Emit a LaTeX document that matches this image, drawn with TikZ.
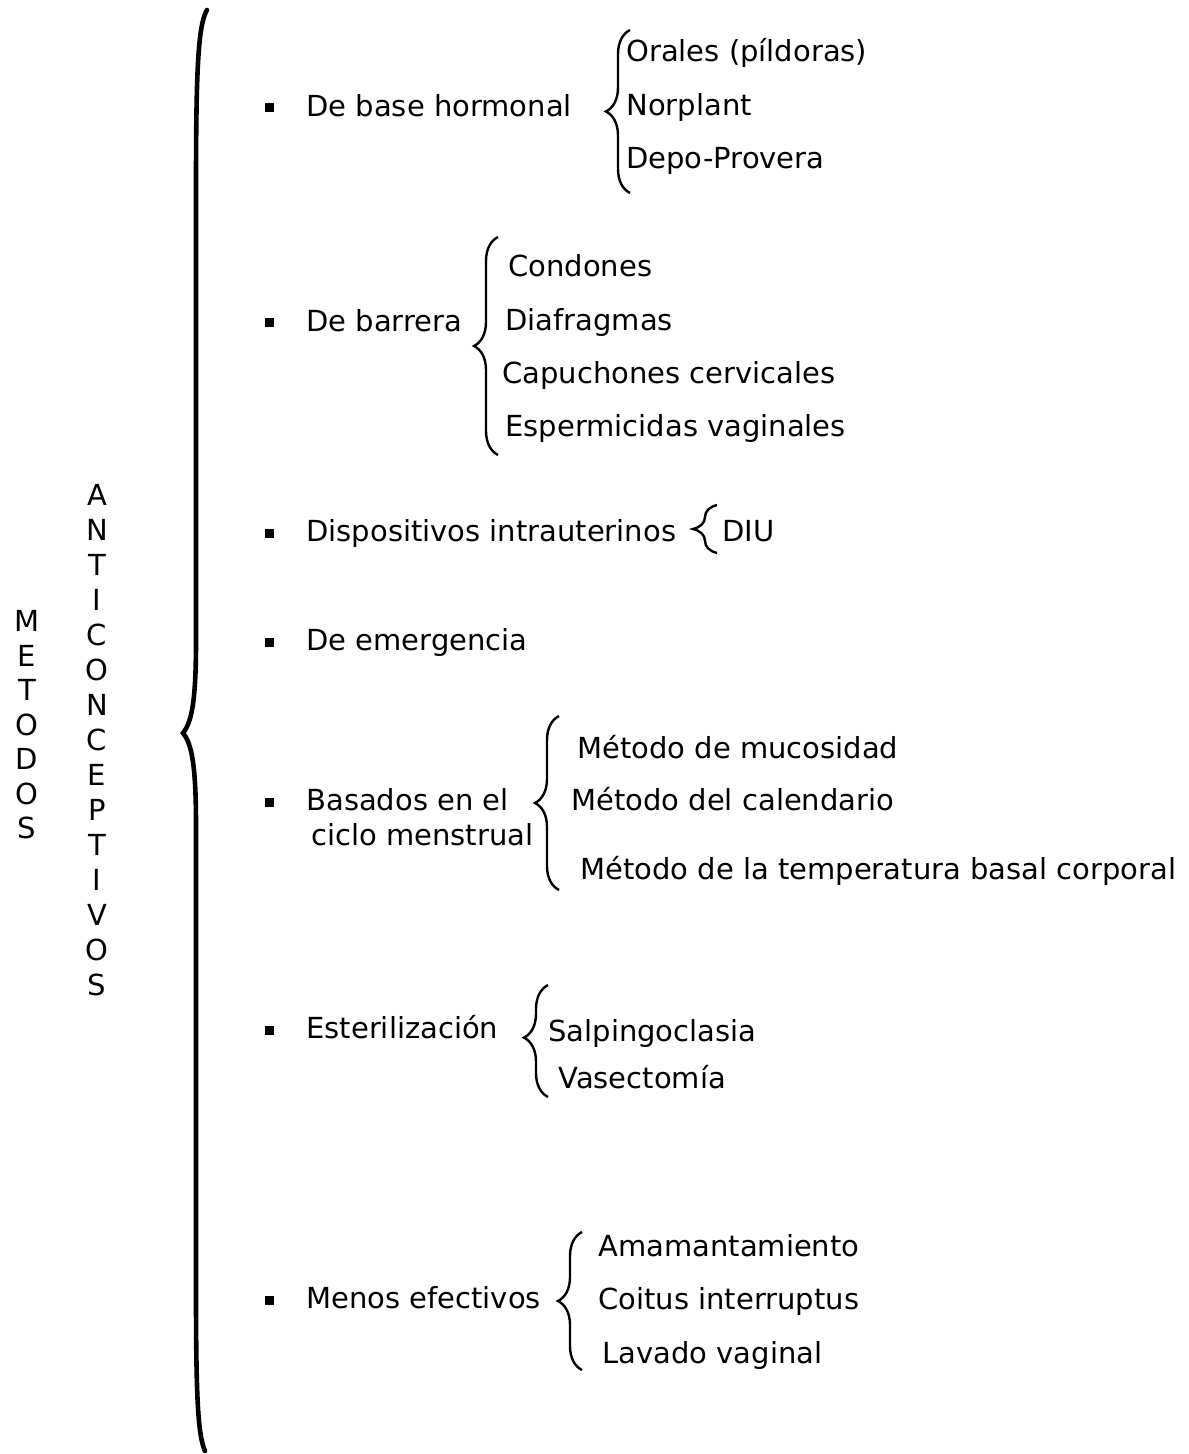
\documentclass[tikz,border=0pt]{standalone}
\usepackage{fontspec}
\setmainfont{DejaVu Sans}
\usetikzlibrary{decorations.pathreplacing,positioning}

\begin{document}
\begin{tikzpicture}
 [
 x=0.5pt, y=-0.5pt,
 item/.style={
  anchor=mid west,
  inner sep=0pt,
  yshift=-1.5pt,
  font=\fontsize{14.5}{17}\selectfont},
 dot/.style={
  rectangle,
  fill=black,
  minimum size=4.5pt,
  inner sep=0pt},
 letters/.style={
  align=center,
  inner sep=0pt,
  font=\fontsize{14.5}{17.25}\selectfont},
 curly/.style={
  decorate,
  decoration={brace,amplitude=12pt,aspect=0.5},
  line width=1.2pt},
 bigcurly/.style={line width=2.3pt, line cap=round}]
\useasboundingbox (0,0) rectangle (1188,1454);
% vertical titles
\node (metodos) [letters] at (27,725) {M\\E\\T\\O\\D\\O\\S};
\node (anticonc) [letters, font=\fontsize{14.5}{17.5}\selectfont] at (97,740) {A\\N\\T\\I\\C\\O\\N\\C\\E\\P\\T\\I\\V\\O\\S};
% main brace
\coordinate (mainTop) at (207,10);
\coordinate (mainTip) at (183,733);
\coordinate (mainBot) at (205,1451);
\draw [bigcurly] (mainTop) .. controls (198,25) and (196,70) .. (196,190)
 -- (196,640) .. controls (196,700) and (192,722) .. (mainTip)
 .. controls (192,744) and (196,766) .. (196,826)
 -- (196,1290) .. controls (196,1400) and (198,1435) .. (mainBot);
% kinds of methods
\node (d1) [dot] at (269,108) {};
\node (hormonal) [item] at (306,108) {De base hormonal};
\node (d2) [dot] at (269,323) {};
\node (barrera) [item] at (306,323) {De barrera};
\node (d3) [dot] at (269,533) {};
\node (disp) [item] at (306,533) {Dispositivos intrauterinos};
\node (d4) [dot] at (269,642) {};
\node (emerg) [item] at (306,642) {De emergencia};
\node (d5) [dot] at (269,802) {};
\node (basados) [item] at (306,802) {Basados en el};
\node (ciclo) [item] at (311,837) {ciclo menstrual};
\node (d6) [dot] at (269,1030) {};
\node (ester) [item] at (306,1030) {Esterilización};
\node (d7) [dot] at (269,1300) {};
\node (menos) [item] at (306,1300) {Menos efectivos};
% hormonal
\coordinate (hormTop) at (630,30);
\coordinate (hormBot) at (630,193);
\draw [curly] (hormBot) -- (hormTop);
\node (orales) [item] at (626,53) {Orales (píldoras)};
\node (norplant) [item] at (626,107) {Norplant};
\node (depo) [item] at (626,160) {Depo-Provera};
% barrera
\coordinate (barrTop) at (498,237);
\coordinate (barrBot) at (498,455);
\draw [curly] (barrBot) -- (barrTop);
\node (condones) [item] at (508,268) {Condones};
\node (diafr) [item] at (505,322) {Diafragmas};
\node (capuch) [item] at (502,375) {Capuchones cervicales};
\node (esperm) [item] at (505,428) {Espermicidas vaginales};
% diu
\coordinate (diuTop) at (717,505);
\coordinate (diuBot) at (717,553);
\draw [curly] (diuBot) -- (diuTop);
\node (diu) [item] at (722,533) {DIU};
% ciclo
\coordinate (cicTop) at (559,716);
\coordinate (cicBot) at (559,890);
\draw [curly] (cicBot) -- (cicTop);
\node (mucosidad) [item] at (577,750) {Método de mucosidad};
\node (calendario) [item] at (571,802) {Método del calendario};
\node (temper) [item] at (580,871) {Método de la temperatura basal corporal};
% esterilizacion
\coordinate (estTop) at (548,985);
\coordinate (estBot) at (548,1097);
\draw [curly, decoration={aspect=0.53}] (estBot) -- (estTop);
\node (salping) [item] at (548,1033) {Salpingoclasia};
\node (vasect) [item] at (558,1080) {Vasectomía};
% menos efectivos
\coordinate (menTop) at (582,1232);
\coordinate (menBot) at (582,1370);
\draw [curly] (menBot) -- (menTop);
\node (amam) [item] at (598,1248) {Amamantamiento};
\node (coitus) [item] at (598,1301) {Coitus interruptus};
\node (lavado) [item] at (602,1355) {Lavado vaginal};
\end{tikzpicture}
\end{document}
